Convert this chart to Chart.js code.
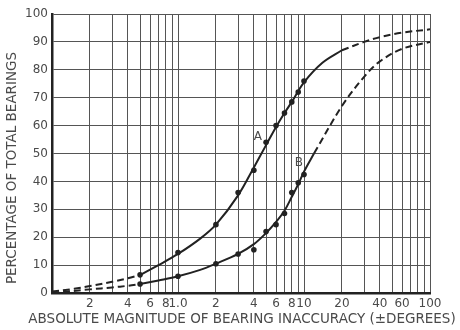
<!DOCTYPE html>
<html>
<head>
<meta charset="utf-8">
<style>
  body { margin: 0; background: #fff; }
  #wrap { width: 460px; height: 330px; }
</style>
<script src="https://cdn.jsdelivr.net/npm/chart.js@4.4.1/dist/chart.umd.min.js"></script>
</head>
<body>
<div id="wrap"><canvas id="chart" width="460" height="330"></canvas></div>
<script>
// measured points
const pointX = [0.5, 1, 2, 3, 4, 5, 6, 7, 8, 9, 10];
const pointsA = [6.5, 14.5, 24.5, 36, 44, 54, 60, 64.5, 68.5, 72, 76];
const pointsB = [3.2, 6, 10.5, 14, 15.5, 22, 24.5, 28.5, 36, 39.5, 42.5];

// fitted curve A (dashed / solid / dashed)
const aLowX = [0.1, 0.15, 0.2, 0.3, 0.4, 0.5];
const aLowY = [0.5, 1.5, 2.5, 4, 5.3, 6.5];
const aMidX = [0.5, 0.7, 1, 1.5, 2, 3, 4, 5, 6, 7, 8, 10, 14, 20];
const aMidY = [6.5, 10, 14, 19.5, 24.5, 35, 45, 53, 59.5, 64.5, 68.5, 75.5, 82.5, 87];
const aHighX = [20, 30, 40, 60, 100];
const aHighY = [87, 90, 91.7, 93.3, 94.5];

// fitted curve B
const bLowX = [0.1, 0.2, 0.3, 0.4, 0.5];
const bLowY = [0, 1.3, 2, 2.6, 3.2];
const bMidX = [0.5, 0.7, 1, 1.5, 2, 3, 4, 5, 6, 7, 8, 9, 10, 12];
const bMidY = [3.2, 4.5, 6, 8.3, 10.5, 14, 17.5, 21.5, 25.5, 29.5, 34.5, 39, 43.5, 50];
const bHighX = [12, 20, 30, 40, 60, 100];
const bHighY = [50, 67, 77.5, 83, 87.5, 90];

// curve letters
const curveNames = ['A', 'B'];
const nameX = [4.3, 9.1];
const nameY = [56, 46.5];

// axes
const xGrid = [0.1, 0.2, 0.3, 0.4, 0.5, 0.6, 0.7, 0.8, 0.9,
               1, 2, 3, 4, 5, 6, 7, 8, 9,
               10, 20, 30, 40, 50, 60, 70, 80, 90, 100];
const xTickVals = [0.2, 0.4, 0.6, 0.8, 1, 2, 4, 6, 8, 10, 20, 40, 60, 100];
const xTickText = ['2', '4', '6', '8', '1.0', '2', '4', '6', '8', '10', '20', '40', '60', '100'];
const xTitle = 'ABSOLUTE MAGNITUDE OF BEARING INACCURACY (\u00B1DEGREES)';
const yTitle = 'PERCENTAGE OF TOTAL BEARINGS';

const INK = '#222';
const TXT = '#4a4a4a';
const FONT = 'DejaVu Sans';

function xy(xs, ys) { return xs.map((x, i) => ({ x: x, y: ys[i] })); }

function curve(xs, ys, dashed) {
  return {
    type: 'line',
    data: xy(xs, ys),
    borderColor: INK,
    borderWidth: 2,
    borderDash: dashed ? [7, 4] : [],
    pointRadius: 0,
    tension: 0.35,
    fill: false
  };
}

function marks(ys) {
  return {
    type: 'scatter',
    data: xy(pointX, ys),
    pointRadius: 2.8,
    pointStyle: 'circle',
    backgroundColor: INK,
    borderColor: INK,
    borderWidth: 0
  };
}

const textPlugin = {
  id: 'texts',
  afterDatasetsDraw(chart) {
    const ctx = chart.ctx;
    const xs = chart.scales.x, ys = chart.scales.y;
    ctx.save();
    ctx.fillStyle = TXT;
    ctx.font = '12px ' + FONT;
    ctx.textAlign = 'center';
    ctx.textBaseline = 'middle';
    curveNames.forEach((n, i) => {
      ctx.fillText(n, xs.getPixelForValue(nameX[i]), ys.getPixelForValue(nameY[i]));
    });
    // axis titles, placed as in the original (wider than the plot area)
    ctx.font = '13.5px ' + FONT;
    ctx.fillText(xTitle, 242, 319);
    ctx.translate(12, 168);
    ctx.rotate(-Math.PI / 2);
    ctx.fillText(yTitle, 0, 0);
    ctx.restore();
  }
};

new Chart(document.getElementById('chart'), {
  data: {
    datasets: [
      curve(aLowX, aLowY, true),
      curve(aMidX, aMidY, false),
      curve(aHighX, aHighY, true),
      curve(bLowX, bLowY, true),
      curve(bMidX, bMidY, false),
      curve(bHighX, bHighY, true),
      marks(pointsA),
      marks(pointsB)
    ]
  },
  options: {
    responsive: false,
    animation: false,
    devicePixelRatio: 1,
    layout: { padding: { left: 0, right: 30, top: 14, bottom: 0 } },
    plugins: { legend: { display: false }, tooltip: { enabled: false } },
    scales: {
      x: {
        type: 'logarithmic',
        min: 0.1,
        max: 100,
        afterBuildTicks: s => { s.ticks = xGrid.map(v => ({ value: v })); },
        afterFit: s => { s.height = 37; },
        grid: { color: '#555', lineWidth: 1, drawTicks: false },
        border: { color: INK, width: 2.5 },
        ticks: {
          autoSkip: false,
          maxRotation: 0,
          padding: 4,
          color: TXT,
          font: { family: FONT, size: 12 },
          callback: v => {
            const i = xTickVals.indexOf(v);
            return i < 0 ? '' : xTickText[i];
          }
        }
      },
      y: {
        type: 'linear',
        min: 0,
        max: 100,
        afterFit: s => { s.width = 52; },
        grid: { color: '#555', lineWidth: 1, drawTicks: false },
        border: { color: INK, width: 2.5 },
        ticks: {
          stepSize: 10,
          padding: 4,
          color: TXT,
          font: { family: FONT, size: 12 }
        }
      }
    }
  },
  plugins: [textPlugin]
});
</script>
</body>
</html>
